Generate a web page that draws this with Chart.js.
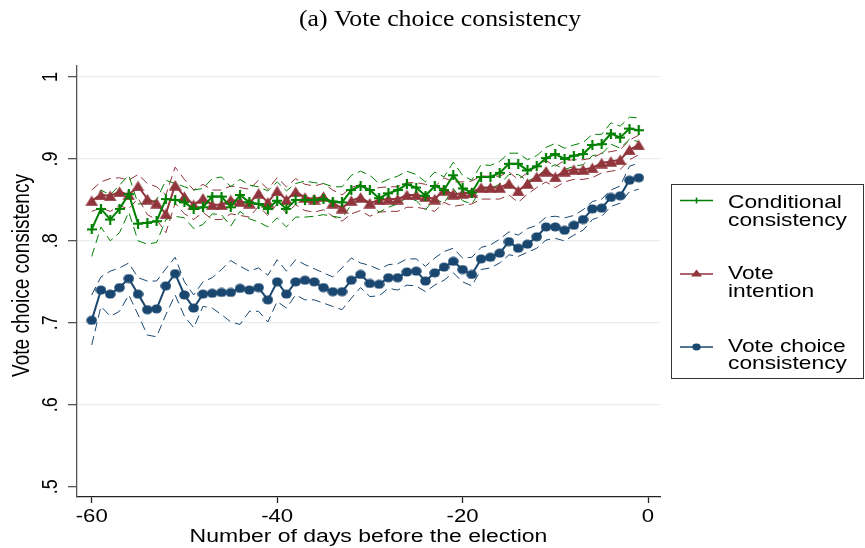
<!DOCTYPE html>
<html><head><meta charset="utf-8">
<script src="https://cdn.jsdelivr.net/npm/chart.js@4/dist/chart.umd.min.js"></script>
<style>html,body{margin:0;padding:0;background:#fff;}canvas{display:block;}</style>
</head><body>
<canvas id="c" width="865" height="548"></canvas>
<script>
const days = [-60,-59,-58,-57,-56,-55,-54,-53,-52,-51,-50,-49,-48,-47,-46,-45,-44,-43,-42,-41,
  -40,-39,-38,-37,-36,-35,-34,-33,-32,-31,-30,-29,-28,-27,-26,-25,-24,-23,-22,-21,
  -20,-19,-18,-17,-16,-15,-14,-13,-12,-11,-10,-9,-8,-7,-6,-5,-4,-3,-2,-1];

const conditional = [0.814,0.839,0.826,0.839,0.857,0.821,0.822,0.824,0.851,0.850,
  0.847,0.839,0.841,0.854,0.854,0.841,0.856,0.847,0.845,0.839,
  0.849,0.839,0.850,0.850,0.850,0.851,0.848,0.847,0.862,0.867,
  0.862,0.852,0.858,0.862,0.869,0.865,0.855,0.867,0.862,0.880,
  0.864,0.859,0.878,0.878,0.883,0.894,0.894,0.886,0.891,0.901,
  0.906,0.900,0.904,0.906,0.917,0.918,0.931,0.926,0.937,0.935];
const condUpper = [0.845,0.862,0.856,0.868,0.880,0.845,0.846,0.850,0.874,0.870,
  0.866,0.862,0.864,0.876,0.878,0.866,0.875,0.868,0.866,0.861,
  0.872,0.861,0.870,0.873,0.871,0.870,0.866,0.866,0.880,0.885,
  0.880,0.870,0.875,0.879,0.885,0.881,0.872,0.884,0.878,0.896,
  0.880,0.874,0.893,0.892,0.897,0.907,0.907,0.899,0.904,0.914,
  0.919,0.913,0.917,0.920,0.930,0.930,0.944,0.940,0.951,0.950];
const condLower = [0.781,0.817,0.800,0.810,0.835,0.800,0.796,0.798,0.826,0.830,
  0.828,0.815,0.820,0.833,0.832,0.818,0.836,0.827,0.823,0.817,
  0.828,0.817,0.829,0.829,0.830,0.832,0.830,0.828,0.844,0.850,
  0.845,0.835,0.841,0.845,0.853,0.849,0.838,0.851,0.846,0.864,
  0.849,0.845,0.863,0.864,0.869,0.881,0.881,0.873,0.878,0.888,
  0.893,0.887,0.891,0.893,0.904,0.906,0.918,0.913,0.924,0.921];

const intention = [0.849,0.856,0.855,0.860,0.856,0.867,0.851,0.846,0.833,0.868,
  0.854,0.844,0.852,0.844,0.844,0.850,0.848,0.846,0.858,0.847,
  0.861,0.850,0.860,0.853,0.851,0.854,0.846,0.840,0.849,0.853,
  0.846,0.850,0.851,0.851,0.856,0.856,0.854,0.851,0.862,0.857,
  0.858,0.859,0.865,0.865,0.865,0.870,0.861,0.870,0.878,0.885,
  0.878,0.885,0.887,0.887,0.889,0.895,0.897,0.899,0.911,0.917];
const intUpper = [0.862,0.872,0.876,0.877,0.874,0.881,0.870,0.866,0.856,0.890,
  0.875,0.862,0.869,0.862,0.862,0.867,0.865,0.863,0.874,0.863,
  0.877,0.866,0.876,0.869,0.867,0.870,0.862,0.856,0.865,0.869,
  0.862,0.865,0.866,0.866,0.871,0.871,0.869,0.866,0.877,0.872,
  0.872,0.873,0.879,0.879,0.879,0.884,0.875,0.883,0.891,0.898,
  0.891,0.898,0.899,0.899,0.901,0.907,0.909,0.911,0.923,0.929];
const intLower = [0.836,0.840,0.836,0.843,0.839,0.852,0.832,0.826,0.810,0.846,
  0.833,0.826,0.835,0.826,0.826,0.833,0.831,0.829,0.842,0.831,
  0.845,0.834,0.844,0.837,0.835,0.838,0.830,0.824,0.833,0.837,
  0.830,0.835,0.836,0.836,0.841,0.841,0.839,0.836,0.847,0.842,
  0.844,0.845,0.851,0.851,0.851,0.856,0.847,0.857,0.865,0.872,
  0.865,0.872,0.875,0.875,0.877,0.883,0.885,0.887,0.899,0.905];

const voteChoice = [0.703,0.740,0.735,0.743,0.754,0.735,0.716,0.717,0.745,0.760,
  0.734,0.718,0.735,0.736,0.737,0.737,0.742,0.740,0.743,0.728,
  0.750,0.735,0.750,0.752,0.750,0.743,0.738,0.738,0.752,0.759,
  0.748,0.747,0.755,0.755,0.762,0.763,0.751,0.761,0.768,0.775,
  0.765,0.759,0.778,0.780,0.785,0.799,0.791,0.796,0.805,0.817,
  0.817,0.813,0.819,0.826,0.839,0.840,0.853,0.855,0.874,0.877];
const vcUpper = [0.734,0.756,0.763,0.767,0.773,0.755,0.751,0.751,0.766,0.780,
  0.750,0.734,0.750,0.755,0.765,0.776,0.769,0.763,0.767,0.758,
  0.777,0.763,0.777,0.771,0.766,0.761,0.756,0.767,0.779,0.773,
  0.770,0.765,0.771,0.772,0.778,0.778,0.769,0.779,0.787,0.791,
  0.779,0.780,0.792,0.795,0.802,0.811,0.807,0.815,0.819,0.829,
  0.830,0.828,0.831,0.838,0.848,0.851,0.862,0.867,0.891,0.895];
const vcLower = [0.673,0.720,0.708,0.714,0.734,0.710,0.685,0.683,0.710,0.734,
  0.708,0.694,0.720,0.718,0.710,0.701,0.698,0.714,0.714,0.701,
  0.726,0.718,0.734,0.728,0.728,0.724,0.720,0.716,0.730,0.743,
  0.732,0.733,0.742,0.740,0.746,0.745,0.738,0.746,0.752,0.761,
  0.750,0.745,0.765,0.767,0.773,0.783,0.781,0.786,0.791,0.801,
  0.803,0.800,0.807,0.813,0.826,0.830,0.842,0.846,0.860,0.863];

const xTicks = [-60,-40,-20,0];
const xTickLabels = ['-60','-40','-20','0'];
const yTicks = [0.5,0.6,0.7,0.8,0.9,1];
const yTickLabels = ['.5','.6','.7','.8','.9','1'];
const chartTitle = '(a) Vote choice consistency';
const xTitle = 'Number of days before the election';
const yTitle = 'Vote choice consistency';
const legendLabels = [['Conditional','consistency'],['Vote','intention'],['Vote choice','consistency']];

const GREEN = '#008000', RED = '#90353b', BLUE = '#1a476f';
const SX = 1.23; // horizontal stretch of the reference rendering
const SANS = '"Liberation Sans", Arial, sans-serif';

function mk(w,h,fn){const c=document.createElement('canvas');c.width=w;c.height=h;fn(c.getContext('2d'));return c;}
const circleImg = mk(11,10,g=>{g.fillStyle=BLUE;g.beginPath();g.ellipse(5.5,5,5.3,4.5,0,0,Math.PI*2);g.fill();});
const triImg = mk(13,11,g=>{g.fillStyle=RED;g.beginPath();g.moveTo(6.5,0.2);g.lineTo(12.9,10.7);g.lineTo(0.1,10.7);g.closePath();g.fill();});
const plusImg = mk(10,10,g=>{g.strokeStyle=GREEN;g.lineWidth=2.2;g.beginPath();g.moveTo(0,5);g.lineTo(10,5);g.moveTo(5,0);g.lineTo(5,10);g.stroke();});

const pts = arr => days.map((d,i)=>({x:d,y:arr[i]}));
function mainDs(arr,color,img){return {data:pts(arr),borderColor:color,backgroundColor:color,borderWidth:2,pointStyle:img,pointRadius:4,tension:0,fill:false};}
function bandDs(arr,color){return {data:pts(arr),borderColor:color,borderWidth:1,borderDash:[9,5],pointRadius:0,tension:0,fill:false};}

const textPlugin = {
  id:'texts',
  afterDraw(chart){
    const ctx = chart.ctx, xs = chart.scales.x, ys = chart.scales.y;
    function txt(s,x,y,font,align,rot,sx){
      ctx.save(); ctx.translate(x,y); ctx.scale(sx||SX,1); if(rot) ctx.rotate(rot);
      ctx.font=font; ctx.fillStyle='#000'; ctx.textAlign=align; ctx.textBaseline='alphabetic';
      ctx.fillText(s,0,0); ctx.restore();
    }
    txt(chartTitle, 440, 26, '23px "Liberation Serif", "Times New Roman", serif', 'center', 0, 1.12);
    xTicks.forEach((v,i)=>txt(xTickLabels[i], xs.getPixelForValue(v), 522, '18px '+SANS, 'center'));
    yTicks.forEach((v,i)=>txt(yTickLabels[i], 57, ys.getPixelForValue(v), '18px '+SANS, 'center', -Math.PI/2));
    txt(xTitle, (xs.left+xs.right)/2, 541.5, '18.7px '+SANS, 'center');
    txt(yTitle, 28.5, (ys.top+ys.bottom)/2 - 6, '19px '+SANS, 'center', -Math.PI/2);
    // legend
    ctx.save();
    ctx.strokeStyle='#333'; ctx.lineWidth=1;
    ctx.strokeRect(671.5,184.5,192,194);
    const colors=[GREEN,RED,BLUE];
    const lineY=[200.5,274,347];
    const base=[[208,226],[278.5,296.5],[351.5,369]];
    colors.forEach((c,i)=>{
      ctx.strokeStyle=c; ctx.lineWidth=1.6;
      ctx.beginPath(); ctx.moveTo(680,lineY[i]); ctx.lineTo(713,lineY[i]); ctx.stroke();
      ctx.fillStyle=c;
      if(i===0){ctx.lineWidth=1.6;ctx.beginPath();ctx.moveTo(696.5,lineY[i]-3);ctx.lineTo(696.5,lineY[i]+3);ctx.stroke();}
      else if(i===1){ctx.beginPath();ctx.moveTo(696.5,lineY[i]-4.5);ctx.lineTo(702,lineY[i]+2.5);ctx.lineTo(691,lineY[i]+2.5);ctx.closePath();ctx.fill();}
      else {ctx.beginPath();ctx.ellipse(696.5,lineY[i],4.2,3.4,0,0,Math.PI*2);ctx.fill();}
      legendLabels[i].forEach((s,j)=>txt(s,728,base[i][j],'18.5px '+SANS,'left'));
    });
    ctx.restore();
  }
};

new Chart(document.getElementById('c'), {
  type:'line',
  data:{datasets:[
    mainDs(conditional,GREEN,plusImg),
    mainDs(intention,RED,triImg),
    mainDs(voteChoice,BLUE,circleImg),
    bandDs(condUpper,GREEN), bandDs(condLower,GREEN),
    bandDs(intUpper,RED), bandDs(intLower,RED),
    bandDs(vcUpper,BLUE), bandDs(vcLower,BLUE)
  ]},
  options:{
    responsive:false, animation:false, devicePixelRatio:1,
    layout:{padding:{left:0,right:205,top:66,bottom:0}},
    plugins:{legend:{display:false},tooltip:{enabled:false},title:{display:false}},
    scales:{
      x:{type:'linear',min:-61.585,max:1.294,
        afterBuildTicks:s=>{s.ticks=xTicks.map(v=>({value:v}));},
        afterFit:s=>{s.height=51;},
        ticks:{display:false},
        grid:{drawOnChartArea:false,drawTicks:true,tickLength:6,tickColor:'#222',tickWidth:1.3},
        border:{display:true,color:'#222',width:1.3}},
      y:{type:'linear',min:0.4874,max:1.0134,
        afterBuildTicks:s=>{s.ticks=yTicks.map(v=>({value:v}));},
        afterFit:s=>{s.width=77;},
        ticks:{display:false},
        grid:{color:c=>(c.tick&&c.tick.value===0.5)?'rgba(0,0,0,0)':'#e6eef0',lineWidth:1.3,drawTicks:true,tickLength:9,tickColor:'#555',tickWidth:1.3},
        border:{display:true,color:'#555',width:1.3}}
    }
  },
  plugins:[textPlugin]
});
</script>
</body></html>
